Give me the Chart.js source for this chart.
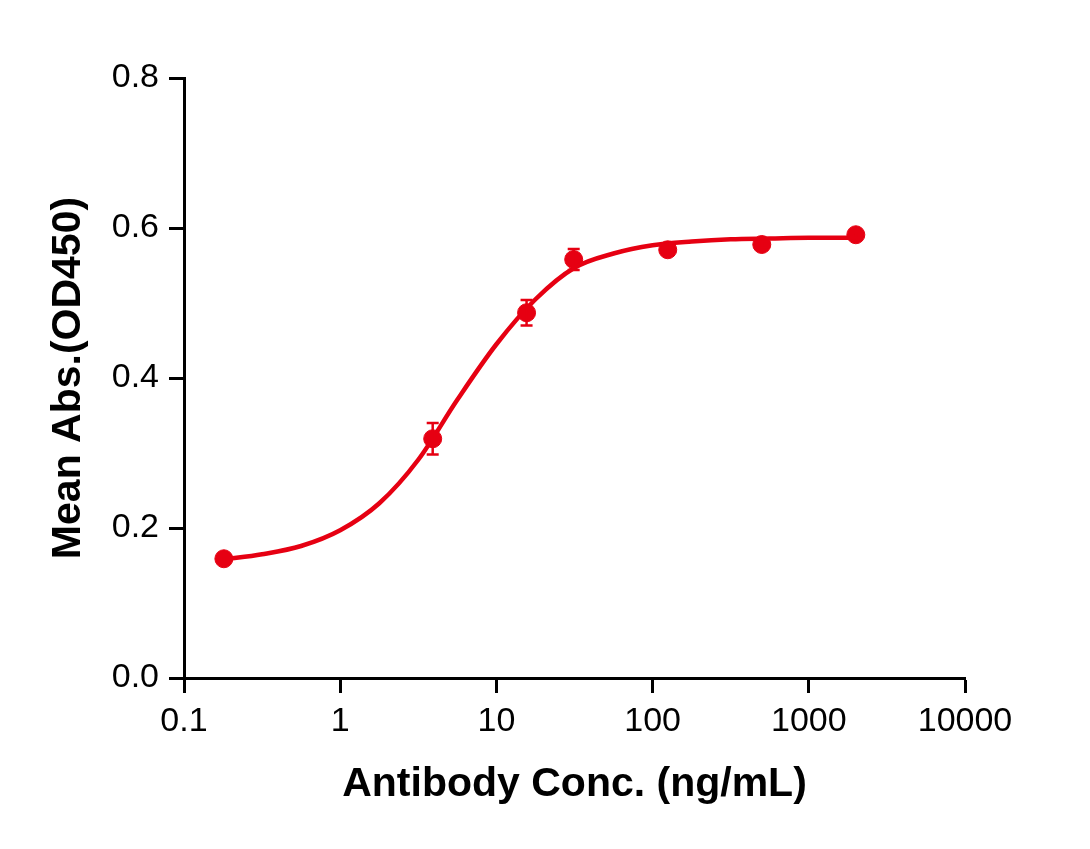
<!DOCTYPE html>
<html>
<head>
<meta charset="utf-8">
<script src="https://cdn.jsdelivr.net/npm/chart.js@4.4.1/dist/chart.umd.min.js"></script>
<style>
  html, body { margin: 0; padding: 0; background: #fff; }
  #wrap { width: 1090px; height: 849px; }
</style>
</head>
<body>
<div id="wrap"><canvas id="bindingChart" width="1090" height="849"></canvas></div>
<script>
/* ================= DATA ================= */
const concentrations = [0.18, 3.91, 15.6, 31.25, 125, 500, 2000];
const meanAbs = [0.159, 0.319, 0.487, 0.558, 0.571, 0.578, 0.591];
const errAbs = [0.004, 0.021, 0.017, 0.014, 0.004, 0.004, 0.004];

// fitted curve
const fitConc = [0.18, 0.316, 0.562, 1, 1.78, 3.16, 5.62, 10, 17.8, 31.6, 56.2, 100, 178, 316, 562, 1000, 1778, 2000];
const fitAbs = [0.158, 0.165, 0.176, 0.197, 0.233, 0.291, 0.371, 0.445, 0.505, 0.547, 0.566, 0.577, 0.582, 0.585, 0.586, 0.587, 0.587, 0.588];

const xTickValues = [0.1, 1, 10, 100, 1000, 10000];

const RED = "#E60012";
const FONT = "'Liberation Sans', Arial, Helvetica, sans-serif";

/* ================= ERROR BARS ================= */
const errorBarPlugin = {
  id: "errorBars",
  afterDatasetsDraw(chart) {
    const xs = chart.scales.x;
    const ys = chart.scales.y;
    const ctx = chart.ctx;
    ctx.save();
    ctx.strokeStyle = RED;
    ctx.lineWidth = 2.5;
    concentrations.forEach((c, i) => {
      const px = xs.getPixelForValue(c);
      const top = ys.getPixelForValue(meanAbs[i] + errAbs[i]);
      const bot = ys.getPixelForValue(meanAbs[i] - errAbs[i]);
      ctx.beginPath();
      ctx.moveTo(px, top);
      ctx.lineTo(px, bot);
      ctx.moveTo(px - 6, top);
      ctx.lineTo(px + 6, top);
      ctx.moveTo(px - 6, bot);
      ctx.lineTo(px + 6, bot);
      ctx.stroke();
    });
    ctx.restore();
  }
};

/* ================= CHART ================= */
new Chart(document.getElementById("bindingChart"), {
  type: "scatter",
  data: {
    datasets: [
      {
        label: "fit",
        data: fitConc.map((c, i) => ({ x: c, y: fitAbs[i] })),
        showLine: true,
        borderColor: RED,
        borderWidth: 4.5,
        pointRadius: 0,
        cubicInterpolationMode: "monotone",
        fill: false
      },
      {
        label: "mean",
        data: concentrations.map((c, i) => ({ x: c, y: meanAbs[i] })),
        backgroundColor: RED,
        borderColor: RED,
        pointRadius: 9,
        pointHoverRadius: 9,
        showLine: false
      }
    ]
  },
  plugins: [errorBarPlugin],
  options: {
    responsive: false,
    animation: false,
    devicePixelRatio: 1,
    layout: {
      padding: { left: 40, top: 78, right: 125, bottom: 36 }
    },
    plugins: {
      legend: { display: false },
      tooltip: { enabled: false }
    },
    scales: {
      x: {
        type: "logarithmic",
        min: 0.1,
        max: 10000,
        afterBuildTicks: scale => {
          scale.ticks = xTickValues.map(v => ({ value: v, major: true }));
        },
        afterFit: scale => { scale.height = 135; },
        grid: {
          drawOnChartArea: false,
          drawTicks: true,
          tickLength: 15,
          tickColor: "#000",
          tickWidth: 3
        },
        border: { display: true, color: "#000", width: 3 },
        ticks: {
          color: "#000",
          padding: 8,
          autoSkip: false,
          maxRotation: 0,
          font: { family: FONT, size: 34 },
          callback: value => String(value)
        },
        title: {
          display: true,
          text: "Antibody Conc. (ng/mL)",
          color: "#000",
          font: { family: FONT, size: 41, weight: "bold" }
        }
      },
      y: {
        min: 0,
        max: 0.8,
        afterFit: scale => { scale.width = 144; },
        grid: {
          drawOnChartArea: false,
          drawTicks: true,
          tickLength: 15,
          tickColor: "#000",
          tickWidth: 3
        },
        border: { display: true, color: "#000", width: 3 },
        ticks: {
          stepSize: 0.2,
          color: "#000",
          padding: 10,
          font: { family: FONT, size: 34 },
          callback: value => value.toFixed(1)
        },
        title: {
          display: true,
          text: "Mean Abs.(OD450)",
          color: "#000",
          font: { family: FONT, size: 41, weight: "bold" }
        }
      }
    }
  }
});
</script>
</body>
</html>
